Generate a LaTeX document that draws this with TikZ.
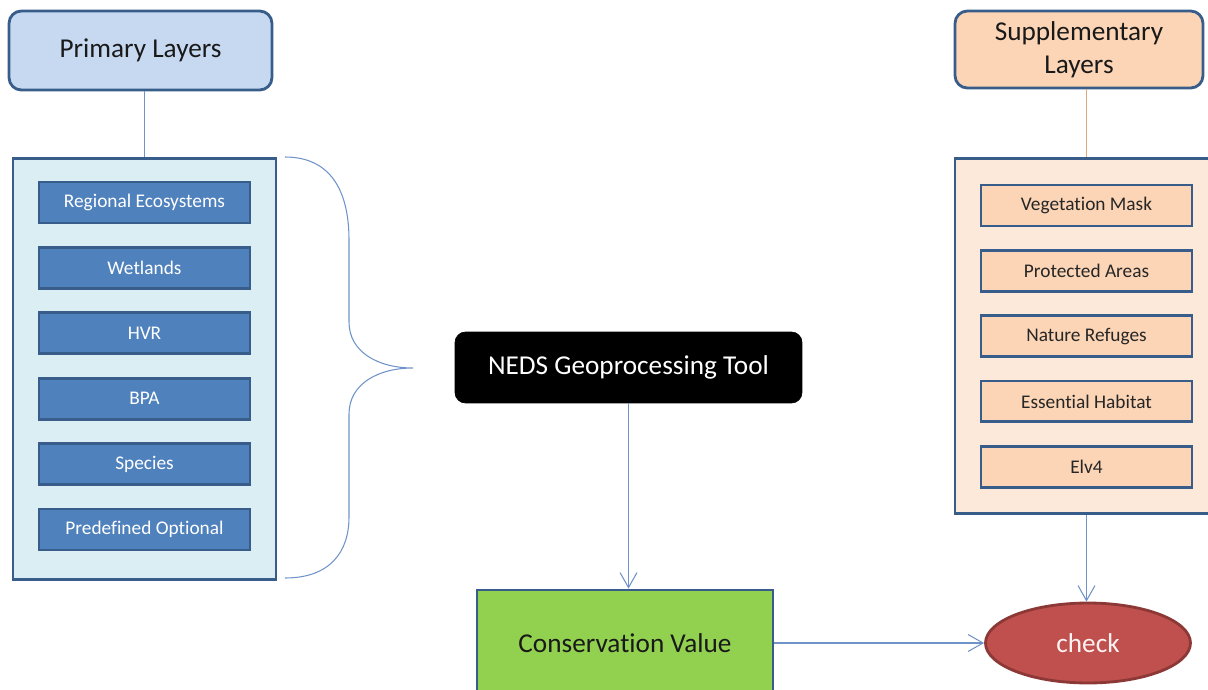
\documentclass[tikz,border=0pt]{standalone}
\usepackage{fontspec}
\setmainfont{Carlito}[Ligatures=NoCommon]
\usetikzlibrary{shapes.geometric,arrows.meta}
\definecolor{edgeblue}{HTML}{385D8A}
\definecolor{primfill}{HTML}{C6D9F1}
\definecolor{panelblue}{HTML}{DBEEF4}
\definecolor{itemblue}{HTML}{4F81BD}
\definecolor{suppfill}{HTML}{FBD5B5}
\definecolor{panelpeach}{HTML}{FDE9D9}
\definecolor{lineblue}{HTML}{6F93C8}
\definecolor{linetan}{HTML}{E0A878}
\definecolor{greenbox}{HTML}{92D050}
\definecolor{redfill}{HTML}{C0504D}
\definecolor{rededge}{HTML}{8C3836}
\tikzstyle{layer} = [draw=edgeblue, line width=1.6pt, rounded corners=7pt,
  font=\fontsize{15.5}{18.5}\selectfont, text=black!90, align=center, inner sep=0pt]
\tikzstyle{primary} = [layer, fill=primfill, minimum width=5.26cm, minimum height=1.58cm]
\tikzstyle{supplem} = [layer, fill=suppfill, minimum width=4.96cm, minimum height=1.54cm]
\tikzstyle{panel} = [draw=edgeblue, line width=1.6pt, minimum width=5.26cm, inner sep=0pt]
\tikzstyle{item} = [draw=edgeblue, line width=1.6pt, minimum width=4.22cm,
  minimum height=0.82cm, font=\fontsize{11}{13}\selectfont, inner sep=0pt]
\tikzstyle{primitem} = [item, fill=itemblue, text=white]
\tikzstyle{suppitem} = [item, fill=suppfill, text=black!85]
\tikzstyle{tool} = [fill=black, draw=black, rounded corners=6pt, text=white,
  minimum width=6.94cm, minimum height=1.42cm, font=\fontsize{15.5}{18.5}\selectfont]
\tikzstyle{result} = [fill=greenbox, draw=edgeblue, line width=1.6pt, text=black!90,
  minimum width=5.92cm, minimum height=2.12cm, font=\fontsize{15.5}{18.5}\selectfont]
\tikzstyle{checkoval} = [ellipse, fill=redfill, draw=rededge, line width=1.6pt,
  text=red!5, minimum width=4.1cm, minimum height=1.6cm, inner sep=0pt,
  font=\fontsize{15.5}{18.5}\selectfont]
\tikzstyle{line} = [draw, color=lineblue, line width=0.6pt]
\tikzstyle{arrowline} = [line, -{Straight Barb[length=3mm,width=3.4mm]}]

\begin{document}
\begin{tikzpicture}[x=0.02cm, y=-0.02cm]
  \useasboundingbox (0,0) rectangle (1208,690);
  \clip (0,0) rectangle (1208,690);

  % primary layers block
  \path (140.5,50.5) node (PRIMARY) [primary] {Primary Layers};
  \path (144.5,157) node (PRIMPANEL) [panel, fill=panelblue, anchor=north, minimum height=8.42cm] {};
  \foreach \name/\label [count=\i from 0] in {REGECO/Regional Ecosystems, WETLANDS/Wetlands,
      HVR/HVR, BPA/BPA, SPECIES/Species, PREDEF/Predefined Optional}
    \path (PRIMPANEL.north)+(0,45.5+65.4*\i) node (\name) [primitem] {\label};

  % supplementary layers block
  \path (1079,49.5) node (SUPPLEM) [supplem] {Supplementary\\ Layers};
  \path (1086.5,157) node (SUPPANEL) [panel, fill=panelpeach, anchor=north, minimum height=7.1cm] {};
  \foreach \name/\label [count=\i from 0] in {VEGMASK/Vegetation Mask, PROTECTED/Protected Areas,
      REFUGES/Nature Refuges, HABITAT/Essential Habitat, ELV/Elv4}
    \path (SUPPANEL.north)+(0,48.5+65.3*\i) node (\name) [suppitem] {\label};

  % processing and result
  \path (628.5,367.5) node (NEDS) [tool] {NEDS Geoprocessing Tool};
  \path (625,643) node (CONSVALUE) [result] {Conservation Value};
  \path (1088,643) node (CHECK) [checkoval] {check};

  % brace round the primary layers
  \coordinate (BRACETIP) at (413,368);
  \draw [line] (285,157) .. controls (330,157) and (349,190) .. (349,240) -- (349,322)
    .. controls (349,352) and (378,368) .. (BRACETIP)
    .. controls (378,368) and (349,384) .. (349,414) -- (349,517)
    .. controls (349,552) and (330,578) .. (285,578);

  % Draw lines and arrows between elements
  \path [line] (PRIMPANEL.north) -- (PRIMPANEL.north |- PRIMARY.south);
  \path [line, color=linetan] (SUPPANEL.north) -- (SUPPANEL.north |- SUPPLEM.south);
  \path [arrowline] (NEDS.south) -- (NEDS.south |- CONSVALUE.north);
  \path [arrowline] (CONSVALUE.east) -- (CHECK.west);
  \path [arrowline] (SUPPANEL.south) -- (SUPPANEL.south |- CHECK.north);
\end{tikzpicture}
\end{document}
